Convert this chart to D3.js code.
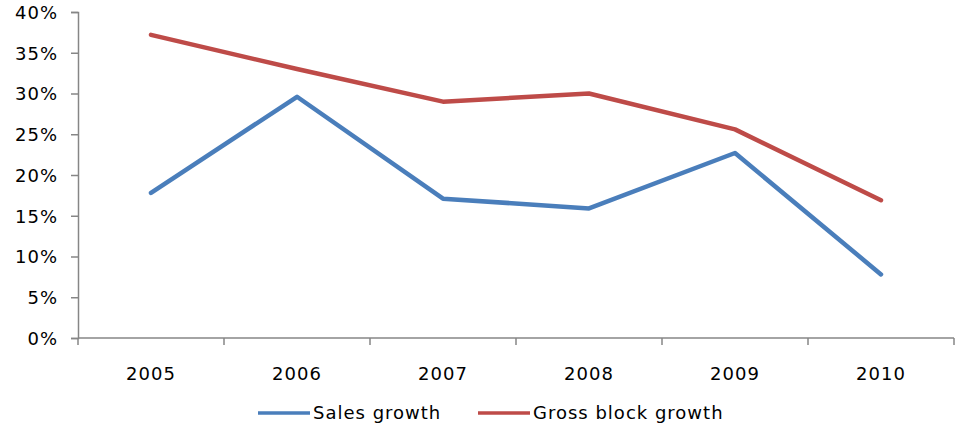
<!DOCTYPE html>
<html>
<head>
<meta charset="utf-8">
<script src="https://cdn.jsdelivr.net/npm/d3@7"></script>
<style>
  html, body { margin: 0; padding: 0; background: #fff; }
  svg text { font-family: "DejaVu Sans", sans-serif; fill: #000; letter-spacing: 1px; }
</style>
</head>
<body>
<svg id="chart" width="963" height="427"></svg>
<script>
const years = ["2005", "2006", "2007", "2008", "2009", "2010"];
const salesGrowth = [0.178, 0.296, 0.171, 0.159, 0.227, 0.078];
const grossBlockGrowth = [0.372, 0.330, 0.290, 0.300, 0.256, 0.169];
const yTicks = [0, 0.05, 0.10, 0.15, 0.20, 0.25, 0.30, 0.35, 0.40];
const seriesNames = ["Sales growth", "Gross block growth"];
const seriesColors = ["#4a7ebb", "#be4b48"];

const svg = d3.select("#chart");
const plot = { left: 78, right: 954, top: 12, bottom: 338 };
const axisColor = "#868686";
const fontSize = 18;

const x = d3.scaleBand().domain(years).range([plot.left, plot.right]);
const y = d3.scaleLinear().domain([0, 0.40]).range([plot.bottom, plot.top]);

// y axis
const yAxis = svg.append("g")
  .attr("transform", `translate(${plot.left},0)`)
  .call(d3.axisLeft(y).tickValues(yTicks).tickFormat(d3.format(".0%")).tickSizeOuter(0).tickSize(7).tickPadding(13));
yAxis.select(".domain").attr("stroke", axisColor).attr("stroke-width", 1.5);
yAxis.selectAll(".tick line").attr("stroke", axisColor).attr("stroke-width", 1.5);
yAxis.selectAll(".tick text").attr("font-size", fontSize).attr("font-family", "DejaVu Sans").attr("dy", "0.36em");

// x axis with boundary ticks between categories
const xAxisG = svg.append("g").attr("transform", `translate(0,${plot.bottom})`);
xAxisG.append("line")
  .attr("x1", plot.left).attr("x2", plot.right)
  .attr("stroke", axisColor).attr("stroke-width", 1.5);
const boundaries = years.map(d => x(d)).concat([x(years[years.length - 1]) + x.bandwidth()]);
xAxisG.selectAll("line.tick")
  .data(boundaries)
  .join("line")
  .attr("class", "tick")
  .attr("x1", d => d).attr("x2", d => d)
  .attr("y1", 0).attr("y2", 7)
  .attr("stroke", axisColor).attr("stroke-width", 1.5);
xAxisG.selectAll("text")
  .data(years)
  .join("text")
  .attr("x", d => x(d) + x.bandwidth() / 2)
  .attr("y", 42)
  .attr("text-anchor", "middle")
  .attr("font-size", fontSize)
  .text(d => d);

// series lines
const line = d3.line()
  .x((d, i) => x(years[i]) + x.bandwidth() / 2)
  .y(d => y(d));

[salesGrowth, grossBlockGrowth].forEach((values, i) => {
  svg.append("path")
    .datum(values)
    .attr("d", line)
    .attr("fill", "none")
    .attr("stroke", seriesColors[i])
    .attr("stroke-width", 4.5)
    .attr("stroke-linejoin", "round")
    .attr("stroke-linecap", "round");
});

// legend
const legendItems = [
  { name: seriesNames[0], color: seriesColors[0], x: 258 },
  { name: seriesNames[1], color: seriesColors[1], x: 478 }
];
const legendY = 413;
const lg = svg.append("g");
legendItems.forEach(item => {
  lg.append("line")
    .attr("x1", item.x).attr("x2", item.x + 52)
    .attr("y1", legendY).attr("y2", legendY)
    .attr("stroke", item.color).attr("stroke-width", 3.5);
  lg.append("text")
    .attr("x", item.x + 55)
    .attr("y", legendY)
    .attr("dy", "0.36em")
    .attr("font-size", fontSize)
    .text(item.name);
});
</script>
</body>
</html>
